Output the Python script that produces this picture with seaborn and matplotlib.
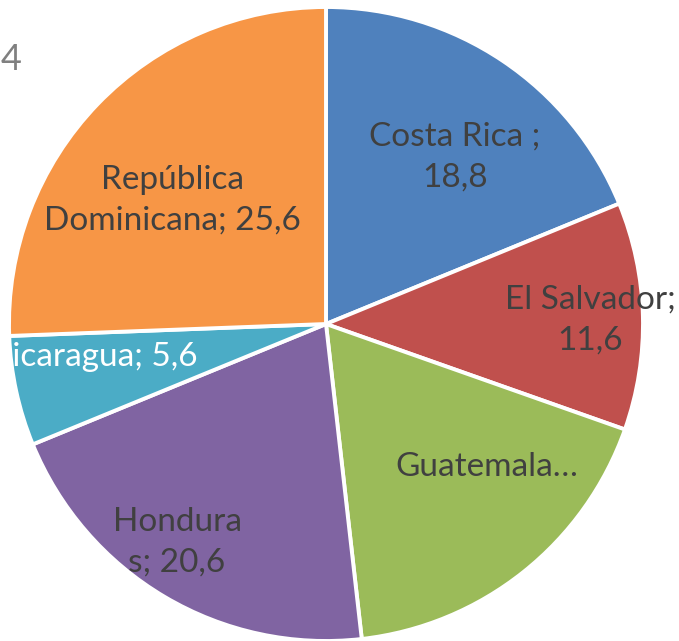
import matplotlib
matplotlib.use("Agg")
import matplotlib.pyplot as plt
import seaborn as sns

paises = ["Costa Rica", "El Salvador", "Guatemala", "Honduras", "Nicaragua", "República Dominicana"]
valores = [18.8, 11.6, 17.8, 20.6, 5.6, 25.6]
etiquetas = ["Costa Rica ;\n18,8", "El Salvador;\n11,6", "Guatemala…",
             "Hondura\ns; 20,6", "Nicaragua; 5,6", "República\nDominicana; 25,6"]
colores = ["#4F81BD", "#C0504D", "#9BBB59", "#8064A2", "#4BACC6", "#F79646"]

sns.set_style("white")
plt.rcParams['font.family'] = ['Lato', 'DejaVu Sans']

fig = plt.figure(figsize=(6.79, 6.41), dpi=100)
ax = fig.add_axes([0, 0, 1, 1])

wedges, _ = ax.pie(valores, colors=sns.color_palette(colores), startangle=90,
                   counterclock=False, radius=1.0,
                   wedgeprops=dict(edgecolor="white", linewidth=2.8))

# pixel scale: 317 px per unit, centre at (326, 324)
s = 317.0
cx, cy = 326.0, 324.0
ax.set_xlim(-cx / s, (679 - cx) / s)
ax.set_ylim(-(641 - cy) / s, cy / s)
ax.set_aspect('auto')
ax.axis('off')

# label centres in pixels
pos = [(455, 157), (590, 320), (487, 467), (177, 542), (92, 357), (172, 200)]
for i, (et, (px, py)) in enumerate(zip(etiquetas, pos)):
    col = "white" if i == 4 else "#404040"
    ax.text((px - cx) / s, (cy - py) / s, et, ha="center", va="center",
            fontsize=24, color=col, linespacing=1.45)

ax.text(0, (cy - 60) / s, "4", ha="left", va="center",
        fontsize=26, color="#808080", transform=ax.transData)
ax.texts[-1].set_x((1 - cx) / s)

fig.savefig("out.png", dpi=100)
